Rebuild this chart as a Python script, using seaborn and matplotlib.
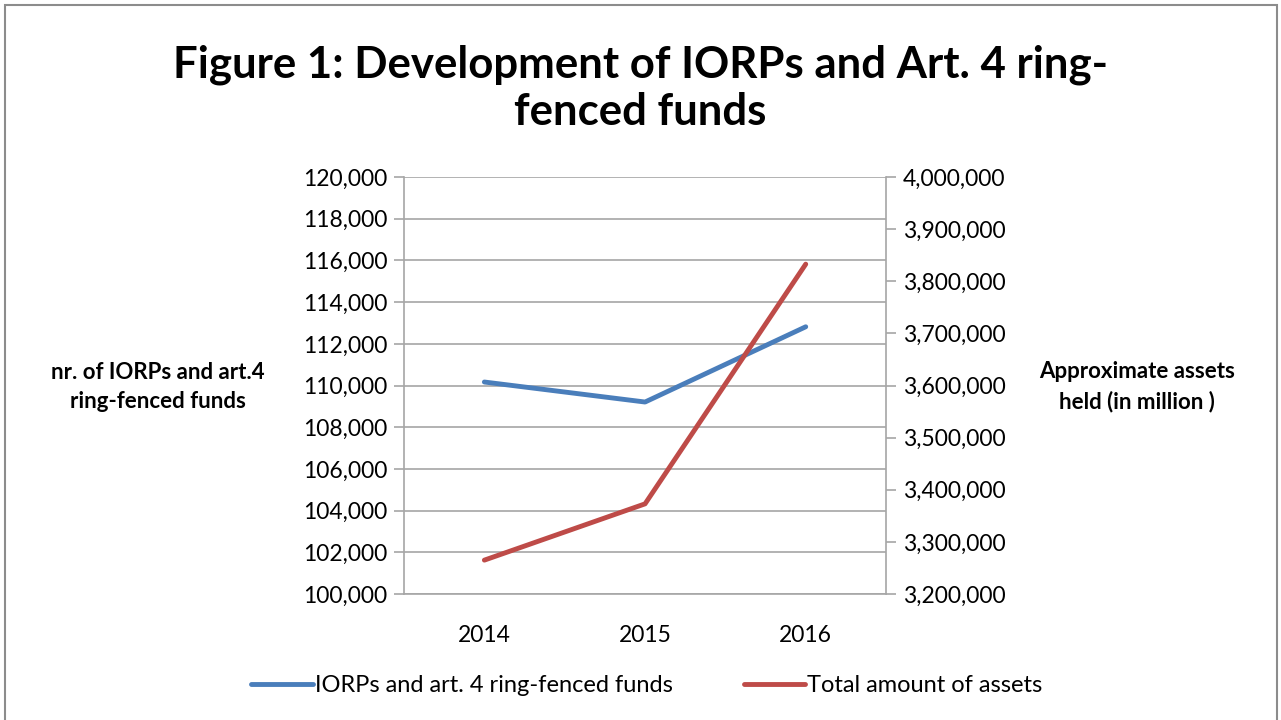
import numpy as np
import pandas as pd
import seaborn as sns
import matplotlib.pyplot as plt
from matplotlib.ticker import FuncFormatter, MultipleLocator
from matplotlib.lines import Line2D
from matplotlib.patches import Rectangle

# Data
years = ["2014", "2015", "2016"]
iorps = [110170, 109210, 112820]
assets = [3265000, 3373000, 3833000]

df = pd.DataFrame({"year": years, "iorps": iorps, "assets": assets})

sns.set_style("white")
plt.rcParams["font.family"] = ["Lato", "DejaVu Sans"]
plt.rcParams["text.color"] = "black"
plt.rcParams["xtick.labelcolor"] = "black"
plt.rcParams["ytick.labelcolor"] = "black"
plt.rcParams["axes.labelcolor"] = "black"

blue = "#4a7ebb"
red = "#be4b48"
grid = "#a6a6a6"

fig = plt.figure(figsize=(12.81, 7.2), dpi=100)
ax = fig.add_axes([0.3154, 0.175, 0.3763, 0.579])
ax2 = ax.twinx()

sns.lineplot(data=df, x="year", y="iorps", ax=ax, color=blue, linewidth=3.5, sort=False)
sns.lineplot(data=df, x="year", y="assets", ax=ax2, color=red, linewidth=3.5, sort=False)

ax.set_xlim(-0.5, 2.5)
ax.set_ylim(100000, 120000)
ax.yaxis.set_major_locator(MultipleLocator(2000))
ax2.set_ylim(3200000, 4000000)
ax2.yaxis.set_major_locator(MultipleLocator(100000))
fmt = FuncFormatter(lambda v, p: f"{v:,.0f}")
ax.yaxis.set_major_formatter(fmt)
ax2.yaxis.set_major_formatter(fmt)

ax.grid(axis="y", color=grid, linewidth=1.2)
ax.set_axisbelow(True)
for a in (ax, ax2):
    for s in a.spines.values():
        s.set_visible(False)
ax.spines["left"].set_visible(True)
ax.spines["bottom"].set_visible(True)
ax2.spines["right"].set_visible(True)
for s in (ax.spines["left"], ax.spines["bottom"], ax2.spines["right"]):
    s.set_color(grid)
    s.set_linewidth(1.2)

ax.set_xticks([0, 1, 2])
ax.set_xticks([-0.5, 0.5, 1.5, 2.5], minor=True)
ax.tick_params(axis="x", which="major", length=0, labelsize=16.5, pad=22)
ax.tick_params(axis="x", which="minor", length=7, color=grid, width=1.2)
ax.tick_params(axis="y", length=7, color=grid, width=1.2, labelsize=16.5, pad=5, left=True)
ax2.tick_params(axis="y", length=7, color=grid, width=1.2, labelsize=16.5, pad=5, right=True)

ax.set_xlabel("")
ax.set_ylabel("nr. of IORPs and art.4\nring-fenced funds", fontsize=16, fontweight="bold",
              rotation=0, ha="center", va="center", labelpad=0, linespacing=1.5)
ax.yaxis.set_label_coords(-0.51, 0.497)
ax2.set_ylabel("Approximate assets\nheld (in million )", fontsize=16, fontweight="bold",
               rotation=0, ha="center", va="center", labelpad=0, linespacing=1.5)
ax2.yaxis.set_label_coords(1.52, 0.497)

fig.text(0.5, 1 - 88 / 720, "Figure 1: Development of IORPs and Art. 4 ring-\nfenced funds",
         fontsize=31.5, fontweight="bold", ha="center", va="center", linespacing=1.2)

handles = [Line2D([], [], color=blue, linewidth=3.5),
           Line2D([], [], color=red, linewidth=3.5)]
fig.legend(handles, ["IORPs and art. 4 ring-fenced funds", "Total amount of assets"],
           loc="center", bbox_to_anchor=(0.505, 0.048), ncol=2, frameon=False,
           fontsize=17, handlelength=2.6, handletextpad=0.1, columnspacing=3)

fig.patches.append(Rectangle((0.004, -0.01), 0.993, 1.003, transform=fig.transFigure,
                             fill=False, edgecolor="#8c8c8c", linewidth=1.5))

fig.savefig("out.png", dpi=100)
